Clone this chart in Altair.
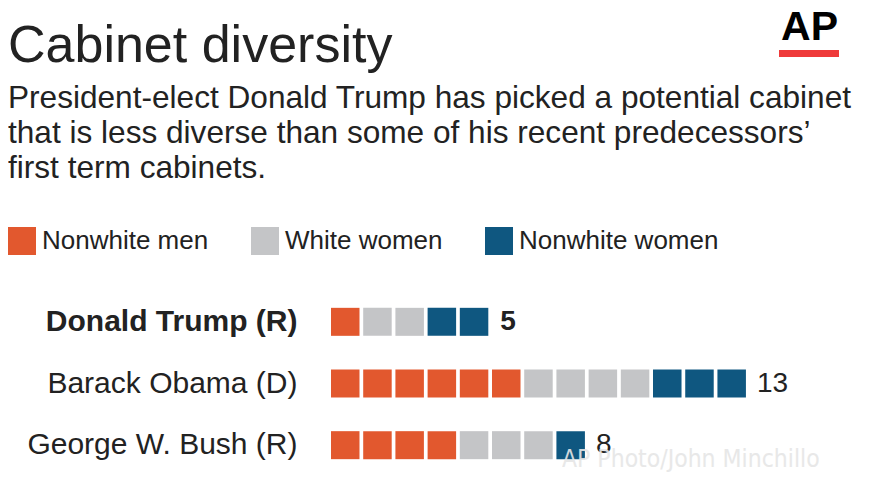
import altair as alt
import pandas as pd

# ---- data ----
presidents = ["Donald Trump (R)", "Barack Obama (D)", "George W. Bush (R)"]
nonwhite_men = [1, 6, 4]
white_women = [2, 4, 3]
nonwhite_women = [2, 3, 1]
totals = [5, 13, 8]
categories = ["Nonwhite men", "White women", "Nonwhite women"]
colors = ["#e2582e", "#c4c5c7", "#0f5780"]

title_text = "Cabinet diversity"
subtitle_lines = [
    "President-elect Donald Trump has picked a potential cabinet",
    "that is less diverse than some of his recent predecessors\u2019",
    "first term cabinets.",
]
logo_text = ["AP"]
credit_text = ["AP Photo/John Minchillo"]

# ---- tables built from the arrays ----
rows = []
for p, counts in zip(presidents, zip(nonwhite_men, white_women, nonwhite_women)):
    slot = 0
    for cat, c in zip(categories, counts):
        for _ in range(c):
            rows.append({"president": p, "category": cat, "slot": slot})
            slot += 1
squares = pd.DataFrame(rows)
totals_df = pd.DataFrame({"president": presidents, "total": totals})

FONT = "Liberation Sans"
x_scale = alt.Scale(domain=[-0.59, 16.8], nice=False, zero=False)
y_scale = alt.Scale(domain=presidents, paddingInner=0.546, paddingOuter=0.273)
bold_test = f"datum.value == '{presidents[0]}'"

rects = alt.Chart(squares).transform_calculate(
    slot_end="datum.slot + 0.885"
).mark_rect().encode(
    x=alt.X("slot:Q", scale=x_scale, axis=None),
    x2="slot_end:Q",
    y=alt.Y(
        "president:N",
        scale=y_scale,
        sort=presidents,
        axis=alt.Axis(
            title=None,
            domain=False,
            ticks=False,
            grid=False,
            labelPadding=15,
            labelFontSize=30,
            labelFont=FONT,
            labelColor="#222222",
            labelLimit=400,
            labelFontWeight={
                "condition": {"test": bold_test, "value": "bold"},
                "value": "normal",
            },
        ),
    ),
    color=alt.Color(
        "category:N",
        scale=alt.Scale(domain=categories, range=colors),
        legend=alt.Legend(
            title=None,
            orient="none",
            legendX=-304,
            legendY=-64,
            direction="horizontal",
            symbolType="square",
            symbolSize=784,
            symbolStrokeWidth=0,
            symbolOpacity=1,
            labelFontSize=26,
            labelFont=FONT,
            labelColor="#222222",
            labelOffset=6,
            columnPadding=42,
            labelLimit=400,
            padding=0,
        ),
    ),
)

num_base = alt.Chart(totals_df).transform_calculate(
    end="datum.total - 1 + 0.885"
)
num_enc = dict(
    x=alt.X("end:Q", scale=x_scale),
    y=alt.Y("president:N", scale=y_scale, sort=presidents),
    text="total:Q",
)
numbers_bold = num_base.transform_filter(
    f"datum.president == '{presidents[0]}'"
).mark_text(
    align="left", baseline="middle", dx=12, fontSize=28, font=FONT,
    color="#222222", fontWeight="bold",
).encode(**num_enc)
numbers_plain = num_base.transform_filter(
    f"datum.president != '{presidents[0]}'"
).mark_text(
    align="left", baseline="middle", dx=11, fontSize=28, font=FONT,
    color="#222222", fontWeight="normal",
).encode(**num_enc)

credit = alt.Chart(pd.DataFrame({"t": credit_text})).mark_text(
    align="left", baseline="alphabetic", fontSize=24.5,
    font="'DejaVu Sans Condensed', 'Roboto Condensed', Roboto, sans-serif",
    color="#e6e6e6", opacity=0.9,
).encode(x=alt.value(250), y=alt.value(176), text="t:N")

logo = alt.Chart(pd.DataFrame({"t": logo_text})).mark_text(
    align="right", baseline="top", fontSize=41, fontWeight="bold",
    font=FONT, color="#000000",
).encode(x=alt.value(526), y=alt.value(-283), text="t:N")

logo_bar = alt.Chart(pd.DataFrame({"t": logo_text})).mark_rect(
    color="#ef3a3a"
).encode(
    x=alt.value(467), x2=alt.value(527), y=alt.value(-241), y2=alt.value(-234)
)

chart = alt.layer(rects, numbers_bold, numbers_plain, credit, logo, logo_bar).properties(
    width=560,
    height=185,
    padding={"left": 304, "top": 283, "right": 0, "bottom": 6},
    autosize=alt.AutoSizeParams(type="none"),
    title=alt.TitleParams(
        text=title_text,
        subtitle=subtitle_lines,
        anchor="start",
        frame="group",
        dx=-304,
        offset=-179,
        fontSize=52,
        font=FONT,
        fontWeight="normal",
        color="#222222",
        subtitleFontSize=31.6,
        subtitleFont=FONT,
        subtitleColor="#222222",
        subtitleLineHeight=35,
        subtitlePadding=10,
    ),
).configure(
    background="white",
    view=alt.ViewConfig(strokeWidth=0, stroke="transparent"),
)

chart.save("out.html", embed_options={"renderer": "svg", "actions": False})
